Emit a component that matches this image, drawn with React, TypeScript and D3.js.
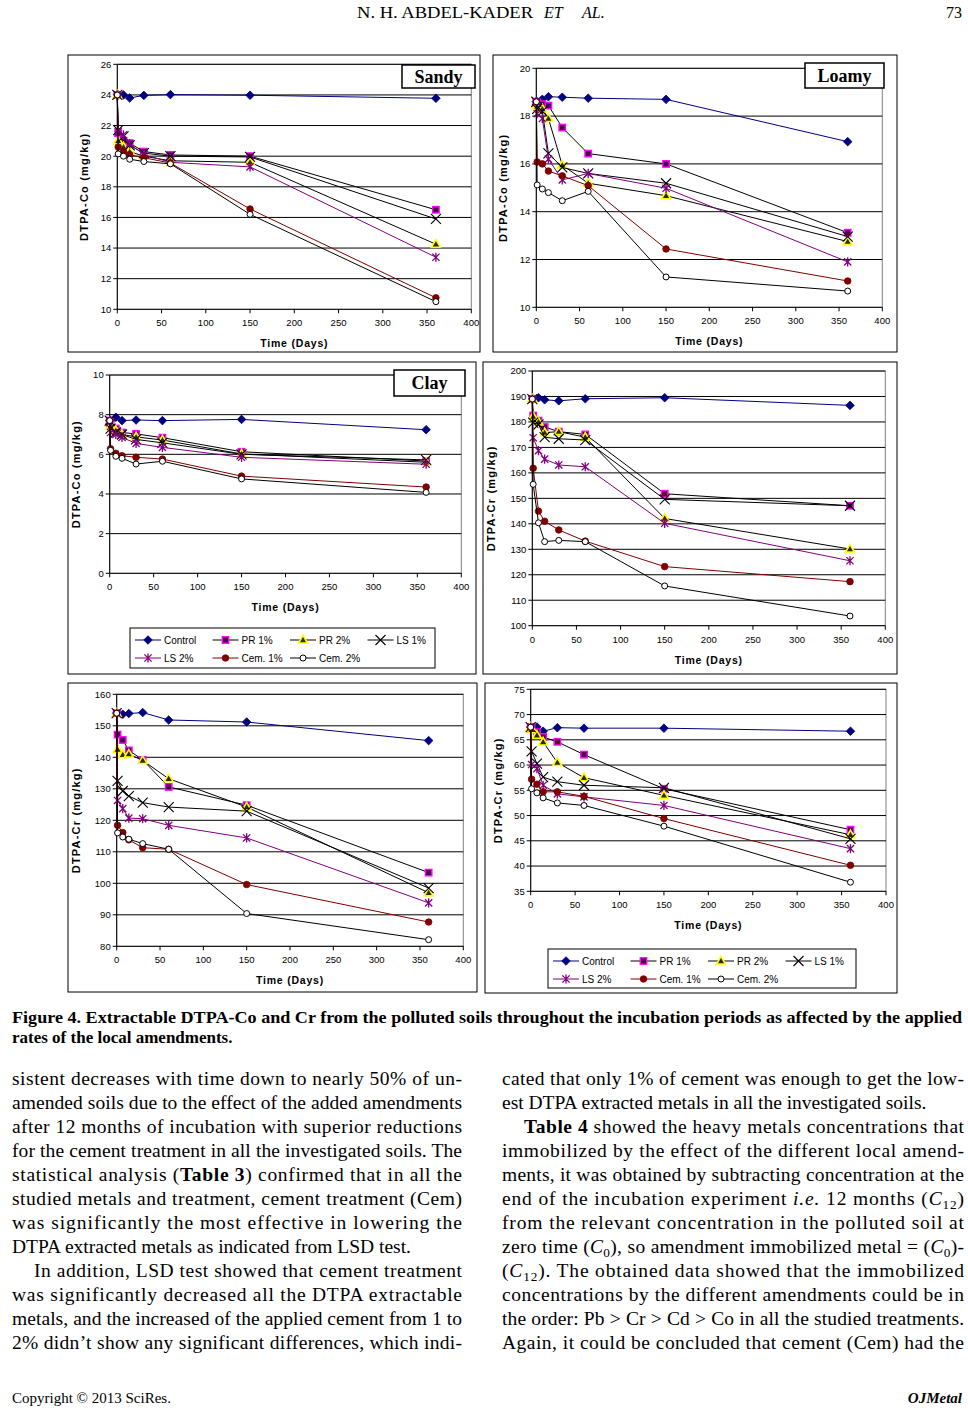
import React from 'react';
import * as d3 from 'd3';

// ---------------- DATA ----------------
const days = [0, 1, 7, 14, 30, 60, 150, 360];
const xTickValues = [0, 50, 100, 150, 200, 250, 300, 350, 400];
const seriesNames = ['Control', 'PR 1%', 'PR 2%', 'LS 1%', 'LS 2%', 'Cem. 1%', 'Cem. 2%'];

// Sandy soil, DTPA-Co (order: Control, PR1, PR2, LS1, LS2, Cem1, Cem2)
const sandyCo: number[][] = [
  [24, 24, 24.0, 23.8, 23.97, 24.02, 23.98, 23.78],
  [24, 21.5, 21.0, 20.85, 20.3, 20.08, 20.0, 16.5],
  [24, 21.0, 20.6, 20.3, 20.0, 19.7, 19.6, 14.25],
  [24, 21.7, 21.3, 20.7, 20.2, 20.0, 19.95, 15.9],
  [24, 21.6, 21.4, 20.8, 20.1, 19.6, 19.3, 13.4],
  [24, 20.6, 20.3, 20.1, 19.9, 19.55, 16.55, 10.75],
  [24, 20.15, 20.0, 19.8, 19.65, 19.5, 16.2, 10.5],
];

// Loamy soil, DTPA-Co
const loamyCo: number[][] = [
  [18.6, 18.6, 18.7, 18.81, 18.79, 18.75, 18.7, 16.93],
  [18.6, 18.6, 18.5, 18.44, 17.52, 16.43, 16.0, 13.12],
  [18.5, 18.4, 18.3, 17.9, 15.95, 15.19, 14.67, 12.75],
  [18.6, 18.3, 18.2, 16.44, 15.85, 15.6, 15.19, 12.96],
  [18.6, 18.1, 17.9, 16.2, 15.33, 15.6, 14.98, 11.9],
  [18.6, 16.08, 16.0, 15.7, 15.5, 15.09, 12.44, 11.1],
  [18.6, 15.12, 14.95, 14.8, 14.46, 14.85, 11.27, 10.68],
];

// Clay soil, DTPA-Co
const clayCo: number[][] = [
  [7.7, 7.7, 7.87, 7.7, 7.73, 7.7, 7.76, 7.24],
  [7.7, 7.5, 7.3, 7.1, 7.03, 6.84, 6.13, 5.66],
  [7.6, 7.4, 7.2, 7.0, 6.88, 6.72, 6.02, 5.6],
  [7.7, 7.3, 7.1, 7.0, 6.75, 6.58, 6.0, 5.72],
  [7.6, 7.1, 7.0, 6.85, 6.55, 6.35, 5.85, 5.5],
  [7.7, 6.28, 6.05, 5.93, 5.85, 5.76, 4.9, 4.35],
  [7.7, 6.2, 5.9, 5.8, 5.51, 5.65, 4.76, 4.08],
];

// DTPA-Cr, first soil
const crFirst: number[][] = [
  [189, 189, 189.5, 188.7, 188.3, 189.1, 189.5, 186.5],
  [189, 182.5, 180.5, 178, 176.2, 175.1, 151.8, 147.1],
  [189, 182.1, 180, 175.8, 176.2, 174, 142.1, 130.1],
  [189, 179.7, 179, 174, 173.4, 172.9, 149.6, 147.1],
  [189, 173.8, 168.7, 165.4, 163.1, 162.4, 140.2, 125.5],
  [189, 161.8, 145, 141, 137.6, 133.2, 123.2, 117.3],
  [189, 155.5, 140.4, 133, 133.5, 133, 115.6, 103.8],
];

// DTPA-Cr, second soil
const crSecond: number[][] = [
  [154, 154, 153.65, 153.9, 154.2, 151.85, 151.2, 145.3],
  [154, 147.2, 145.5, 142.2, 139.2, 130.6, 124.8, 103.4],
  [154, 142.5, 140.8, 141, 139, 133.2, 124.2, 97],
  [154, 132.5, 129.3, 127.7, 125.6, 124.2, 122.9, 98.5],
  [154, 126.3, 123.7, 120.7, 120.5, 118.4, 114.4, 93.8],
  [154, 118.4, 116.1, 113.8, 111.3, 110.8, 99.6, 87.7],
  [154, 116, 114.7, 114, 112.6, 110.8, 90.4, 82.1],
];

// DTPA-Cr, third soil
const crThird: number[][] = [
  [67.5, 67.5, 67.54, 66.7, 67.4, 67.3, 67.3, 66.7],
  [67.5, 67.5, 66.5, 65.56, 64.6, 62.06, 55.3, 47.2],
  [67.5, 67, 65.9, 64.57, 60.5, 57.5, 54.0, 46.2],
  [67.5, 62.7, 60.3, 57.6, 56.7, 56, 55.5, 45.4],
  [67.5, 60.1, 59.3, 56, 54.3, 53.7, 52.0, 43.45],
  [67.5, 57.2, 56.2, 54.7, 54.7, 53.8, 49.4, 40.15],
  [67.5, 55.3, 54.5, 53.5, 52.5, 52.0, 47.9, 36.8],
];

// ---------------- TEXT ----------------
const headerAuthors = 'N. H. ABDEL-KADER';
const pageNumber = '73';
const captionLines = [
  'Figure 4. Extractable DTPA-Co and Cr from the polluted soils throughout the incubation periods as affected by the applied',
  'rates of the local amendments.',
];
// [text, justify, indent]
const leftColumn: [string, boolean, boolean][] = [
  ['sistent decreases with time down to nearly 50% of un-', true, false],
  ['amended soils due to the effect of the added amendments', true, false],
  ['after 12 months of incubation with superior reductions', true, false],
  ['for the cement treatment in all the investigated soils. The', true, false],
  ['statistical analysis (**Table 3**) confirmed that in all the', true, false],
  ['studied metals and treatment, cement treatment (Cem)', true, false],
  ['was significantly the most effective in lowering the', true, false],
  ['DTPA extracted metals as indicated from LSD test.', false, false],
  ['In addition, LSD test showed that cement treatment', true, true],
  ['was significantly decreased all the DTPA extractable', true, false],
  ['metals, and the increased of the applied cement from 1 to', true, false],
  ['2% didn\u2019t show any significant differences, which indi-', true, false],
];
const rightColumn: [string, boolean, boolean][] = [
  ['cated that only 1% of cement was enough to get the low-', true, false],
  ['est DTPA extracted metals in all the investigated soils.', false, false],
  ['**Table 4** showed the heavy metals concentrations that', true, true],
  ['immobilized by the effect of the different local amend-', true, false],
  ['ments, it was obtained by subtracting concentration at the', true, false],
  ['end of the incubation experiment _i.e._ 12 months (_C_~12~)', true, false],
  ['from the relevant concentration in the polluted soil at', true, false],
  ['zero time (_C_~0~), so amendment immobilized metal = (_C_~0~)-', true, false],
  ['(_C_~12~). The obtained data showed that the immobilized', true, false],
  ['concentrations by the different amendments could be in', true, false],
  ['the order: Pb > Cr > Cd > Co in all the studied treatments.', true, false],
  ['Again, it could be concluded that cement (Cem) had the', true, false],
];

// ---------------- STYLE ----------------
const SANS = 'Liberation Sans, Arial, Helvetica, sans-serif';
const SERIF = 'Liberation Serif, Times New Roman, serif';

const lineColors = ['#000080', '#000000', '#000000', '#000000', '#800080', '#800000', '#000000'];
const markerKinds = ['diamond', 'square', 'triangle', 'x', 'star', 'circle', 'ocircle'];

function Marker({ kind, x, y }: { kind: string; x: number; y: number }) {
  switch (kind) {
    case 'diamond':
      return <path d={`M${x},${y - 4.3}L${x + 4.3},${y}L${x},${y + 4.3}L${x - 4.3},${y}Z`} fill="#000080" stroke="#000080" strokeWidth={0.8} />;
    case 'square':
      return <rect x={x - 3.2} y={y - 3.2} width={6.4} height={6.4} fill="#4a0045" stroke="#ff00ff" strokeWidth={1.4} />;
    case 'triangle':
      return <path d={`M${x},${y - 4.6}L${x + 4.4},${y + 3}L${x - 4.4},${y + 3}Z`} fill="#2b2b00" stroke="#ffff00" strokeWidth={1.6} />;
    case 'x':
      return <path d={`M${x - 5},${y - 5}L${x + 5},${y + 5}M${x - 5},${y + 5}L${x + 5},${y - 5}`} stroke="#000" strokeWidth={1.1} fill="none" />;
    case 'star':
      return <path d={`M${x - 3.6},${y - 3.6}L${x + 3.6},${y + 3.6}M${x - 3.6},${y + 3.6}L${x + 3.6},${y - 3.6}M${x},${y - 4.6}L${x},${y + 4.6}`} stroke="#800080" strokeWidth={1.3} fill="none" />;
    case 'circle':
      return <circle cx={x} cy={y} r={3.3} fill="#800000" stroke="#800000" strokeWidth={0.8} />;
    default:
      return <circle cx={x} cy={y} r={3} fill="#ffffff" stroke="#000000" strokeWidth={1} />;
  }
}

type Panel = {
  values: number[][];
  yMin: number; yMax: number; yStep: number;
  yTitle: string;
  frame: [number, number, number, number];
  plot: [number, number, number, number];
  yTitleX: number;
  tag?: { text: string; r: [number, number, number, number] };
  legend?: [number, number, number, number];
};

const panels: Panel[] = [
  { values: sandyCo, yMin: 10, yMax: 26, yStep: 2, yTitle: 'DTPA-Co (mg/kg)', frame: [68, 55, 480, 352], plot: [117.3, 64.3, 471.3, 309.3], yTitleX: 84, tag: { text: 'Sandy', r: [402, 65, 475, 88] } },
  { values: loamyCo, yMin: 10, yMax: 20, yStep: 2, yTitle: 'DTPA-Co (mg/kg)', frame: [493, 55, 897, 352], plot: [536.3, 68.3, 882.3, 307.3], yTitleX: 503, tag: { text: 'Loamy', r: [805, 63, 884, 88] } },
  { values: clayCo, yMin: 0, yMax: 10, yStep: 2, yTitle: 'DTPA-Co (mg/kg)', frame: [68, 362, 476, 674], plot: [109.7, 375, 461.3, 573.3], yTitleX: 76.3, tag: { text: 'Clay', r: [394, 370, 465, 396] }, legend: [130, 628, 435, 668] },
  { values: crFirst, yMin: 100, yMax: 200, yStep: 10, yTitle: 'DTPA-Cr (mg/kg)', frame: [483, 362, 897, 674], plot: [532.3, 371, 885.3, 625.7], yTitleX: 491.3 },
  { values: crSecond, yMin: 80, yMax: 160, yStep: 10, yTitle: 'DTPA-Cr (mg/kg)', frame: [68, 683, 477, 992], plot: [116.7, 694.3, 463.3, 946.3], yTitleX: 76.3 },
  { values: crThird, yMin: 35, yMax: 75, yStep: 5, yTitle: 'DTPA-Cr (mg/kg)', frame: [485, 683, 897, 993], plot: [530.7, 689.3, 886, 891.3], yTitleX: 497.7, legend: [548, 949, 856, 988] },
];

function Chart({ p }: { p: Panel }) {
  const [px0, py0, px1, py1] = p.plot;
  const x = d3.scaleLinear().domain([0, 400]).range([px0, px1]);
  const y = d3.scaleLinear().domain([p.yMin, p.yMax]).range([py1, py0]);
  const yTicks = d3.range(p.yMin, p.yMax + p.yStep / 2, p.yStep);
  const line = d3.line<number>().x((_, i) => x(days[i])).y((d) => y(d));
  const [fx0, fy0, fx1, fy1] = p.frame;
  return (
    <g>
      <rect x={fx0} y={fy0} width={fx1 - fx0} height={fy1 - fy0} fill="#fff" stroke="#000" strokeWidth={1} />
      <rect x={px0} y={py0} width={px1 - px0} height={py1 - py0} fill="#fff" stroke="#808080" strokeWidth={1} />
      {yTicks.filter((t) => t > p.yMin).map((t) => (
        <line key={'g' + t} x1={px0} x2={px1} y1={y(t)} y2={y(t)} stroke="#000" strokeWidth={1} />
      ))}
      <line x1={px0} x2={px0} y1={py0} y2={py1} stroke="#000" strokeWidth={1} />
      <line x1={px0} x2={px1} y1={py1} y2={py1} stroke="#000" strokeWidth={1} />
      {yTicks.map((t) => (
        <g key={'yt' + t}>
          <line x1={px0 - 4} x2={px0} y1={y(t)} y2={y(t)} stroke="#000" />
          <text x={px0 - 6} y={y(t)} dy="0.35em" textAnchor="end" fontFamily={SANS} fontSize={9.5}>{t}</text>
        </g>
      ))}
      {xTickValues.map((t) => (
        <g key={'xt' + t}>
          <line x1={x(t)} x2={x(t)} y1={py1} y2={py1 + 4} stroke="#000" />
          <text x={x(t)} y={py1 + 17} textAnchor="middle" fontFamily={SANS} fontSize={9.5}>{t}</text>
        </g>
      ))}
      <text x={(px0 + px1) / 2} y={py1 + 38} textAnchor="middle" fontFamily={SANS} fontSize={10.5} fontWeight="bold" letterSpacing={0.8}>Time (Days)</text>
      <text transform={`translate(${p.yTitleX},${(py0 + py1) / 2}) rotate(-90)`} textAnchor="middle" dominantBaseline="central" fontFamily={SANS} fontSize={11} fontWeight="bold" letterSpacing={1.2}>{p.yTitle}</text>
      {p.values.map((s, i) => (
        <g key={'s' + i}>
          <path d={line(s) || ''} fill="none" stroke={lineColors[i]} strokeWidth={1} />
          {s.map((v, j) => (
            <Marker key={j} kind={markerKinds[i]} x={x(days[j])} y={y(v)} />
          ))}
        </g>
      ))}
      {p.tag && (
        <g>
          <rect x={p.tag.r[0]} y={p.tag.r[1]} width={p.tag.r[2] - p.tag.r[0]} height={p.tag.r[3] - p.tag.r[1]} fill="#fff" stroke="#000" strokeWidth={1.5} />
          <text x={(p.tag.r[0] + p.tag.r[2]) / 2} y={(p.tag.r[1] + p.tag.r[3]) / 2} dy="0.36em" textAnchor="middle" fontFamily={SERIF} fontWeight="bold" fontSize={18}>{p.tag.text}</text>
        </g>
      )}
      {p.legend && <Legend r={p.legend} />}
    </g>
  );
}

function Legend({ r }: { r: [number, number, number, number] }) {
  const [lx0, ly0, lx1, ly1] = r;
  const rowY = [ly0 + 12, ly0 + 30];
  return (
    <g>
      <rect x={lx0} y={ly0} width={lx1 - lx0} height={ly1 - ly0} fill="#fff" stroke="#000" strokeWidth={1} />
      {seriesNames.map((name, i) => {
        const col = i % 4;
        const row = Math.floor(i / 4);
        const sx = lx0 + 5 + col * 77.5;
        const sy = rowY[row];
        return (
          <g key={name}>
            <line x1={sx} x2={sx + 26} y1={sy} y2={sy} stroke={lineColors[i]} strokeWidth={1} />
            <Marker kind={markerKinds[i]} x={sx + 13} y={sy} />
            <text x={sx + 29} y={sy} dy="0.35em" fontFamily={SANS} fontSize={10}>{name}</text>
          </g>
        );
      })}
    </g>
  );
}

// simple rich-text parser: **bold**, _italic_, ~sub~
function parseRich(src: string) {
  const segs: { t: string; b: boolean; i: boolean; sub: boolean }[] = [];
  let b = false, it = false, sub = false, cur = '';
  let k = 0;
  const push = () => { if (cur) segs.push({ t: cur, b, i: it, sub }); cur = ''; };
  while (k < src.length) {
    if (src.startsWith('**', k)) { push(); b = !b; k += 2; continue; }
    const c = src[k];
    if (c === '_') { push(); it = !it; k++; continue; }
    if (c === '~') { push(); sub = !sub; k++; continue; }
    cur += c; k++;
  }
  push();
  return segs;
}

function RichLine({ x, y, width, src, justify, size }: { x: number; y: number; width: number; src: string; justify: boolean; size: number }) {
  const segs = parseRich(src);
  let prevSub = false;
  return (
    <text x={x} y={y} fontFamily={SERIF} fontSize={size} textLength={justify ? width : undefined} lengthAdjust="spacing">
      {segs.map((s, i) => {
        let dy: number | undefined = undefined;
        if (s.sub && !prevSub) dy = 4;
        else if (!s.sub && prevSub) dy = -4;
        prevSub = s.sub;
        return (
          <tspan key={i} dy={dy} fontWeight={s.b ? 'bold' : undefined} fontStyle={s.i ? 'italic' : undefined} fontSize={s.sub ? size * 0.68 : undefined}>{s.t}</tspan>
        );
      })}
    </text>
  );
}

export default function App() {
  const bodySize = 19.5;
  const base = 1085;
  const lh = 24;
  const cols = [
    { lines: leftColumn, x0: 12, x1: 462 },
    { lines: rightColumn, x0: 502, x1: 964 },
  ];
  return (
    <div style={{ position: 'absolute', left: 0, top: 0 }}>
      <svg width={968} height={1415} viewBox="0 0 968 1415" style={{ display: 'block', background: '#fff' }}>
        <rect x={0} y={0} width={968} height={1415} fill="#fff" />
        {/* header */}
        <text x={357} y={18} fontFamily={SERIF} fontSize={16} textLength={176} lengthAdjust="spacingAndGlyphs">{headerAuthors}</text>
        <text x={544} y={18} fontFamily={SERIF} fontSize={16} fontStyle="italic">ET</text>
        <text x={582} y={18} fontFamily={SERIF} fontSize={16} fontStyle="italic">AL.</text>
        <text x={962} y={18} textAnchor="end" fontFamily={SERIF} fontSize={16}>{pageNumber}</text>

        {panels.map((p, i) => <Chart key={i} p={p} />)}

        {/* caption */}
        <text x={12} y={1023} fontFamily={SERIF} fontWeight="bold" fontSize={17} textLength={950} lengthAdjust="spacingAndGlyphs">{captionLines[0]}</text>
        <text x={12} y={1043} fontFamily={SERIF} fontWeight="bold" fontSize={17}>{captionLines[1]}</text>

        {/* body text */}
        {cols.map((c, ci) =>
          c.lines.map(([src, just, indent], li) => {
            const xs = c.x0 + (indent ? 22 : 0);
            return (
              <RichLine key={ci + '-' + li} x={xs} y={base + li * lh} width={c.x1 - xs} src={src} justify={just} size={bodySize} />
            );
          })
        )}

        {/* footer */}
        <text x={12} y={1403} fontFamily={SERIF} fontSize={15}>Copyright © 2013 SciRes.</text>
        <text x={962} y={1403} textAnchor="end" fontFamily={SERIF} fontSize={15} fontWeight="bold" fontStyle="italic">OJMetal</text>
      </svg>
    </div>
  );
}
